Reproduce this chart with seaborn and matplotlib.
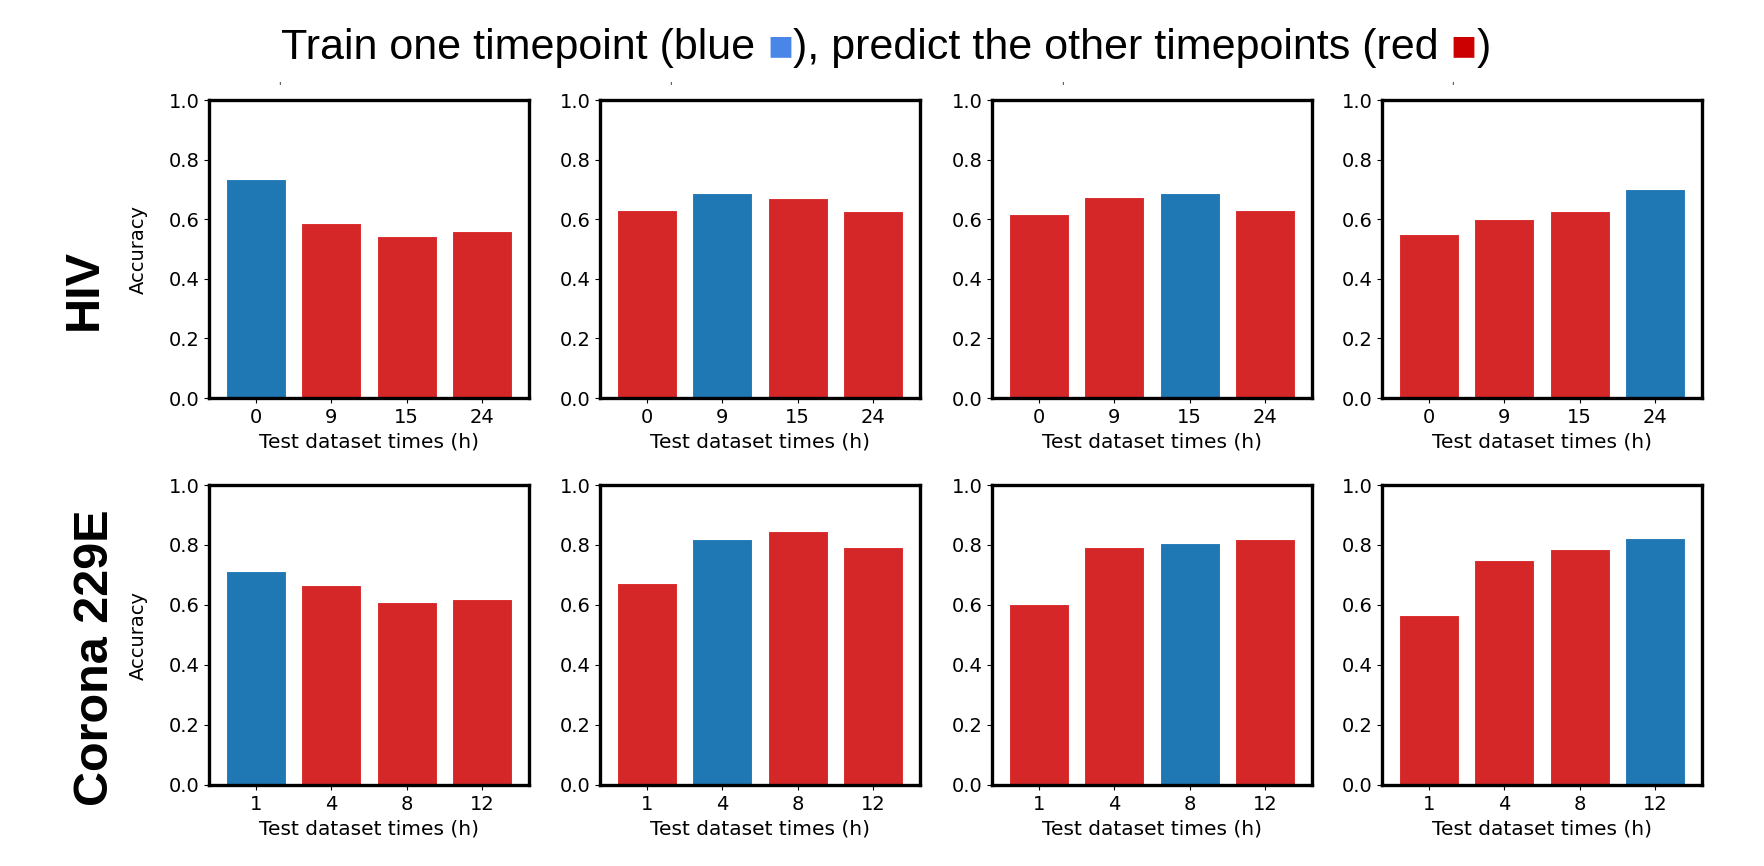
import numpy as np
import pandas as pd
import seaborn as sns
import matplotlib.pyplot as plt
from matplotlib.offsetbox import TextArea, HPacker, AnchoredOffsetbox

# data
hiv_times = ["0", "9", "15", "24"]
corona_times = ["1", "4", "8", "12"]

hiv_acc = [
    [0.734, 0.587, 0.544, 0.561],
    [0.632, 0.688, 0.672, 0.627],
    [0.617, 0.674, 0.687, 0.631],
    [0.549, 0.602, 0.626, 0.703],
]
corona_acc = [
    [0.712, 0.667, 0.609, 0.621],
    [0.673, 0.820, 0.848, 0.795],
    [0.603, 0.793, 0.806, 0.820],
    [0.568, 0.750, 0.787, 0.822],
]
row_names = ["HIV", "Corona 229E"]
title_parts = ["Train one timepoint (blue ", "\u25A0", "), predict the other timepoints (red ", "\u25A0", ")"]
title_colors = ["black", "#4a86e8", "black", "#cc0000", "black"]

pal = {"train": "#1f77b4", "test": "#d62728"}

fig = plt.figure(figsize=(17.65, 8.66), dpi=100)

col_left = [209, 600, 992, 1382]
col_w = 320
rows = [(398, 298), (785, 300)]  # bottom pixel, height

for r, (times, accs) in enumerate([(hiv_times, hiv_acc), (corona_times, corona_acc)]):
    yb, h = rows[r]
    for j in range(4):
        ax = fig.add_axes([col_left[j] / 1765, 1 - yb / 866, col_w / 1765, h / 866])
        df = pd.DataFrame({"time": times, "acc": accs[j],
                           "role": ["train" if i == j else "test" for i in range(4)]})
        sns.barplot(data=df, x="time", y="acc", hue="role", order=times, palette=pal,
                    dodge=False, width=0.8, saturation=1, edgecolor="white",
                    linewidth=0.8, legend=False, ax=ax)
        ax.set_ylim(0, 1)
        ax.set_xlim(-0.62, 3.62)
        ax.set_yticks(np.arange(0, 1.01, 0.2))
        ax.set_yticklabels([f"{v:.1f}" for v in np.arange(0, 1.01, 0.2)])
        ax.tick_params(labelsize=14)
        ax.set_xlabel("Test dataset times (h)", fontsize=14.5, labelpad=4)
        if j == 0:
            ax.set_ylabel("Accuracy", fontsize=14)
            ax.yaxis.set_label_coords(-0.19, 0.5)
        else:
            ax.set_ylabel("")
        for s in ax.spines.values():
            s.set_linewidth(2.4)
            s.set_color("black")
        if r == 0:
            ax.text(0.22, 1.035, "'", transform=ax.transAxes, fontsize=7, ha="center")

# row labels
fig.text(0.048, 0.666, row_names[0], rotation=90, ha="center", va="center",
         fontsize=35, fontweight="bold", family=["Liberation Sans", "DejaVu Sans"])
fig.text(0.054, 0.240, row_names[1], rotation=90, ha="center", va="center",
         fontsize=35, fontweight="bold", family=["Liberation Sans", "DejaVu Sans"])

# title with coloured squares
areas = [TextArea(s, textprops=dict(color=c, fontsize=31, family=["Liberation Sans", "DejaVu Sans"]))
         for s, c in zip(title_parts, title_colors)]
box = HPacker(children=areas, align="baseline", pad=0, sep=0)
anch = AnchoredOffsetbox(loc="upper center", child=box, pad=0, borderpad=0, frameon=False,
                         bbox_to_anchor=(0.502, 0.968), bbox_transform=fig.transFigure)
fig.add_artist(anch)

fig.savefig("out.png", dpi=100)
